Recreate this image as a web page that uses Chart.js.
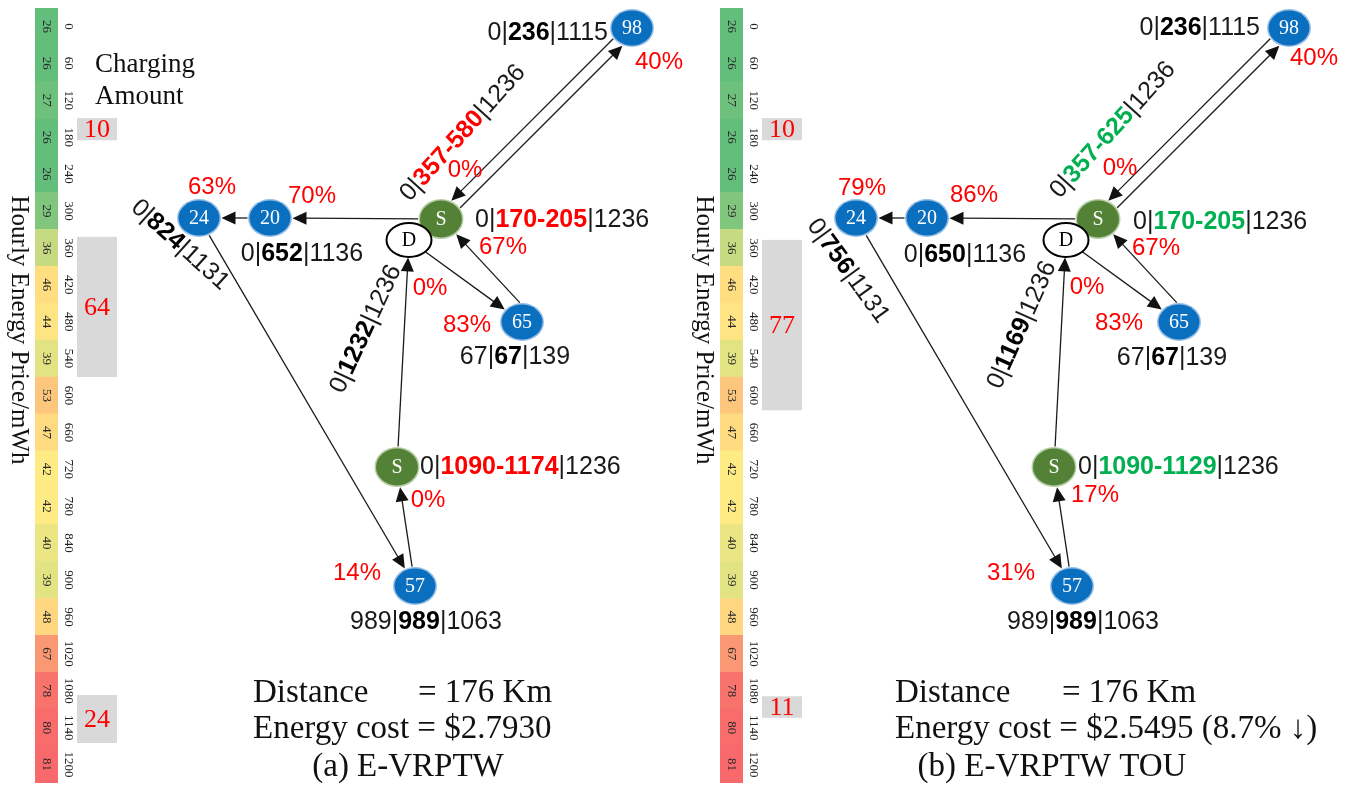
<!DOCTYPE html>
<html>
<head>
<meta charset="utf-8">
<script src="https://cdn.jsdelivr.net/npm/chart.js@4.4.1/dist/chart.umd.min.js"></script>
<style>
body { margin: 0; background: #fff; }
#wrap { position: relative; width: 1352px; height: 789px; overflow: hidden; }
canvas { position: absolute; top: 0; }
</style>
</head>
<body>
<div id="wrap">
  <canvas id="stripA" width="200" height="789" style="left:0px"></canvas>
  <canvas id="stripB" width="200" height="789" style="left:685px"></canvas>
  <canvas id="netA" width="595" height="789" style="left:100px"></canvas>
  <canvas id="netB" width="595" height="789" style="left:757px"></canvas>
</div>
<script>
// hourly price strip
const times = [0, 60, 120, 180, 240, 300, 360, 420, 480, 540, 600, 660, 720, 780, 840, 900, 960, 1020, 1080, 1140, 1200];
const prices = [26, 26, 27, 26, 26, 29, 36, 46, 44, 39, 53, 47, 42, 42, 40, 39, 48, 67, 78, 80, 81];

// charging amount boxes (minutes of day)
const chargeAmountA = [10, 64, 24];
const chargeFromA = [179, 372, 1117];
const chargeToA = [215, 600, 1195];
const chargeAmountB = [10, 77, 11];
const chargeFromB = [179, 377, 1119];
const chargeToB = [215, 654, 1154];

// network nodes (layout units)
const nodeIds = ['98', 'S1', 'D', '20', '24', '65', 'S2', '57'];
const nodeText = ['98', 'S', 'D', '20', '24', '65', 'S', '57'];
const nodeType = ['c', 's', 'd', 'c', 'c', 'c', 's', 'c'];
const nodeX = [53.2, 34.1, 30.9, 17.0, 9.9, 42.2, 29.7, 31.5];
const nodeY = [2.8, 21.9, 24.0, 21.8, 21.8, 32.2, 46.7, 58.6];

// route
const routeFrom = ['D', '65', 'S1', '98', 'S1', '20', '24', '57', 'S2'];
const routeTo = ['65', 'S1', '98', 'S1', '20', '24', '57', 'S2', 'D'];
// line end offsets in px: [fromDx, fromDy, toDx, toDy]
const routePorts = [null, [0, -17, 14, 14], [4, 4, 4, 4], [-4, -4, -4, -4], null, null, null, null, null];

const labelsA = [
  { x: 50.8, y: 3.3, align: 'right', parts: [['0|', 'n'], ['236', 'b'], ['|1115', 'n']] },
  { x: 55.9, y: 6.2, parts: [['40%', 'p']] },
  { x: 36.3, y: 13.3, rot: -48, parts: [['0|', 'n'], ['357-580', 'r'], ['|1236', 'n']] },
  { x: 36.5, y: 17.0, parts: [['0%', 'p']] },
  { x: 37.5, y: 22.0, align: 'left', parts: [['0|', 'n'], ['170-205', 'r'], ['|1236', 'n']] },
  { x: 40.3, y: 24.7, parts: [['67%', 'p']] },
  { x: 11.2, y: 18.7, parts: [['63%', 'p']] },
  { x: 21.2, y: 19.6, parts: [['70%', 'p']] },
  { x: 20.2, y: 25.4, parts: [['0|', 'n'], ['652', 'b'], ['|1136', 'n']] },
  { x: 8.0, y: 24.5, rot: 42, parts: [['0|', 'n'], ['824', 'b'], ['|1131', 'n']] },
  { x: 26.6, y: 32.9, rot: -65, parts: [['0|', 'n'], ['1232', 'b'], ['|1236', 'n']] },
  { x: 33.0, y: 28.8, parts: [['0%', 'p']] },
  { x: 36.7, y: 32.5, parts: [['83%', 'p']] },
  { x: 41.5, y: 35.7, parts: [['67|', 'n'], ['67', 'b'], ['|139', 'n']] },
  { x: 32.0, y: 46.7, align: 'left', parts: [['0|', 'n'], ['1090-1174', 'r'], ['|1236', 'n']] },
  { x: 32.8, y: 50.0, parts: [['0%', 'p']] },
  { x: 25.7, y: 57.3, parts: [['14%', 'p']] },
  { x: 32.6, y: 62.2, parts: [['989|', 'n'], ['989', 'b'], ['|1063', 'n']] }
];

const labelsB = [
  { x: 50.3, y: 2.8, align: 'right', parts: [['0|', 'n'], ['236', 'b'], ['|1115', 'n']] },
  { x: 55.7, y: 5.8, parts: [['40%', 'p']] },
  { x: 35.6, y: 13.0, rot: -48, parts: [['0|', 'n'], ['357-625', 'g'], ['|1236', 'n']] },
  { x: 36.3, y: 16.8, parts: [['0%', 'p']] },
  { x: 37.6, y: 22.2, align: 'left', parts: [['0|', 'n'], ['170-205', 'g'], ['|1236', 'n']] },
  { x: 39.9, y: 24.8, parts: [['67%', 'p']] },
  { x: 10.5, y: 18.8, parts: [['79%', 'p']] },
  { x: 21.7, y: 19.5, parts: [['86%', 'p']] },
  { x: 20.8, y: 25.5, parts: [['0|', 'n'], ['650', 'b'], ['|1136', 'n']] },
  { x: 9.1, y: 27.1, rot: 54, parts: [['0|', 'n'], ['756', 'b'], ['|1131', 'n']] },
  { x: 26.5, y: 32.5, rot: -66, parts: [['0|', 'n'], ['1169', 'b'], ['|1236', 'n']] },
  { x: 33.0, y: 28.7, parts: [['0%', 'p']] },
  { x: 36.2, y: 32.3, parts: [['83%', 'p']] },
  { x: 41.5, y: 35.8, parts: [['67|', 'n'], ['67', 'b'], ['|139', 'n']] },
  { x: 32.1, y: 46.7, align: 'left', parts: [['0|', 'n'], ['1090-1129', 'g'], ['|1236', 'n']] },
  { x: 33.8, y: 49.5, parts: [['17%', 'p']] },
  { x: 25.4, y: 57.3, parts: [['31%', 'p']] },
  { x: 32.6, y: 62.2, parts: [['989|', 'n'], ['989', 'b'], ['|1063', 'n']] }
];

const summaryA = { x: 15.3, eqX: 31.8, capX: 30.8, dist: '= 176 Km', cost: 'Energy cost = $2.7930', caption: '(a) E-VRPTW' };
const summaryB = { x: 13.8, eqX: 30.5, capX: 29.5, dist: '= 176 Km', cost: 'Energy cost = $2.5495 (8.7% \u2193)', caption: '(b) E-VRPTW TOU' };

const SANS = '"Liberation Sans", Arial, sans-serif';
const SERIF = '"Liberation Serif", "Times New Roman", serif';

const styles = {
  n: { font: '25px ' + SANS, color: '#1a1a1a' },
  b: { font: 'bold 25px ' + SANS, color: '#000' },
  r: { font: 'bold 25px ' + SANS, color: '#ff0000' },
  g: { font: 'bold 25px ' + SANS, color: '#00b050' },
  p: { font: '24px ' + SANS, color: '#ff0000' }
};

// excel style 3 colour scale
const lo = [99, 190, 123], mid = [255, 235, 132], hi = [248, 105, 107];
const sorted = prices.slice().sort((a, b) => a - b);
const pMin = sorted[0], pMax = sorted[sorted.length - 1], pMid = sorted[Math.floor(sorted.length / 2)];
function mix(c1, c2, t) {
  return 'rgb(' + c1.map((v, k) => Math.round(v + (c2[k] - v) * t)).join(',') + ')';
}
function priceColor(p) {
  if (p <= pMid) return mix(lo, mid, (p - pMin) / (pMid - pMin));
  return mix(mid, hi, (p - pMid) / (pMax - pMid));
}

function stripPlugin(amount, from, to, showTitle) {
  return {
    id: 'strip',
    afterDatasetsDraw(chart) {
      const { ctx, chartArea } = chart;
      const yS = chart.scales.y, yt = chart.scales.yt;
      const cx = (chartArea.left + chartArea.right) / 2;
      ctx.save();
      ctx.textAlign = 'center';
      ctx.textBaseline = 'middle';
      times.forEach((t, i) => {
        const py = yS.getPixelForValue(i);
        ctx.font = '13px ' + SERIF;
        ctx.fillStyle = '#2a2a2a';
        ctx.save(); ctx.translate(cx, py); ctx.rotate(Math.PI / 2);
        ctx.fillText(String(prices[i]), 0, 0); ctx.restore();
        ctx.fillStyle = '#222';
        ctx.save(); ctx.translate(chartArea.right + 10, py); ctx.rotate(Math.PI / 2);
        ctx.fillText(String(t), 0, 0); ctx.restore();
      });
      // charging boxes
      amount.forEach((a, k) => {
        const y0 = yt.getPixelForValue(from[k]), y1 = yt.getPixelForValue(to[k]);
        const bx = chartArea.right + 19;
        ctx.fillStyle = '#d9d9d9';
        ctx.fillRect(bx, y0, 40, y1 - y0);
        ctx.fillStyle = '#ff0000';
        ctx.font = '26px ' + SERIF;
        ctx.fillText(String(a), bx + 20, (y0 + y1) / 2 + 1);
      });
      // axis title
      ctx.fillStyle = '#111';
      ctx.font = '25px ' + SERIF;
      ctx.save(); ctx.translate(19, 330); ctx.rotate(Math.PI / 2);
      ctx.fillText('Hourly Energy Price/mWh', 0, 0); ctx.restore();
      if (showTitle) {
        ctx.textAlign = 'left';
        ctx.font = '27px ' + SERIF;
        ctx.fillText('Charging', 95, 65);
        ctx.fillText('Amount', 95, 97);
      }
      ctx.restore();
    }
  };
}

function makeStrip(id, amount, from, to, showTitle) {
  return new Chart(document.getElementById(id), {
    type: 'bar',
    data: {
      labels: times,
      datasets: [{
        data: prices,
        backgroundColor: prices.map(priceColor),
        borderWidth: 0,
        barPercentage: 1,
        categoryPercentage: 1,
        clip: 0
      }]
    },
    options: {
      indexAxis: 'y',
      responsive: false,
      animation: false,
      events: [],
      layout: { autoPadding: false, padding: { left: 35, right: 142, top: 8, bottom: 6 } },
      plugins: { legend: { display: false }, tooltip: { enabled: false } },
      scales: {
        x: { min: 0, max: 20, display: false },
        y: { display: false },
        yt: { type: 'linear', axis: 'y', min: 0, max: 1260, reverse: true, offset: false, display: false }
      }
    },
    plugins: [stripPlugin(amount, from, to, showTitle)]
  });
}

// node look
const nodeR = { c: [22, 19], s: [22.5, 20], d: [22.5, 17] };
function makeNode(type, text) {
  const cv = document.createElement('canvas');
  cv.width = 50; cv.height = 44;
  const c = cv.getContext('2d');
  const [rx, ry] = nodeR[type];
  c.beginPath();
  c.ellipse(25, 22, rx, ry, 0, 0, Math.PI * 2);
  if (type === 'd') {
    c.fillStyle = '#fff'; c.fill();
    c.lineWidth = 2; c.strokeStyle = '#000'; c.stroke();
  } else {
    c.fillStyle = type === 'c' ? 'rgba(70,140,210,0.55)' : 'rgba(110,160,80,0.5)';
    c.fill();
    c.beginPath();
    c.ellipse(25, 22, rx - 1.5, ry - 1.5, 0, 0, Math.PI * 2);
    c.fillStyle = type === 'c' ? '#0b6fc0' : '#538135';
    c.fill();
  }
  c.fillStyle = type === 'd' ? '#000' : '#fff';
  c.font = '20px ' + SERIF;
  c.textAlign = 'center';
  c.textBaseline = 'middle';
  c.fillText(text, 25, 23);
  return cv;
}
const nodeImages = nodeIds.map((id, i) => makeNode(nodeType[i], nodeText[i]));

function ellipseRoot(p0, d, cx, cy, rx, ry, larger) {
  const ux = (p0.x - cx) / rx, uy = (p0.y - cy) / ry, vx = d.x / rx, vy = d.y / ry;
  const a = vx * vx + vy * vy, b = 2 * (ux * vx + uy * vy), c = ux * ux + uy * uy - 1;
  const disc = b * b - 4 * a * c;
  if (disc < 0) return larger ? 0 : 1;
  const s = Math.sqrt(disc);
  return larger ? (-b + s) / (2 * a) : (-b - s) / (2 * a);
}

function drawParts(ctx, x, y, parts, align, rot) {
  ctx.save();
  ctx.translate(x, y);
  if (rot) ctx.rotate(rot * Math.PI / 180);
  ctx.textBaseline = 'middle';
  ctx.textAlign = 'left';
  let total = 0;
  const widths = parts.map(([t, s]) => { ctx.font = styles[s].font; const w = ctx.measureText(t).width; total += w; return w; });
  let px = align === 'left' ? 0 : align === 'right' ? -total : -total / 2;
  parts.forEach(([t, s], k) => {
    ctx.font = styles[s].font;
    ctx.fillStyle = styles[s].color;
    ctx.fillText(t, px, 0);
    px += widths[k];
  });
  ctx.restore();
}

function netPlugin(labels, summary) {
  return {
    id: 'net',
    beforeDatasetsDraw(chart) {
      const { ctx } = chart;
      const xs = chart.scales.x, ys = chart.scales.y;
      ctx.save();
      ctx.strokeStyle = '#1a1a1a';
      ctx.fillStyle = '#111';
      ctx.lineWidth = 1.3;
      routeFrom.forEach((fid, k) => {
        const a = nodeIds.indexOf(fid), b = nodeIds.indexOf(routeTo[k]);
        const ca = { x: xs.getPixelForValue(nodeX[a]), y: ys.getPixelForValue(nodeY[a]) };
        const cb = { x: xs.getPixelForValue(nodeX[b]), y: ys.getPixelForValue(nodeY[b]) };
        const pt = routePorts[k] || [0, 0, 0, 0];
        const p0 = { x: ca.x + pt[0], y: ca.y + pt[1] };
        const p1 = { x: cb.x + pt[2], y: cb.y + pt[3] };
        const d = { x: p1.x - p0.x, y: p1.y - p0.y };
        const ra = nodeR[nodeType[a]], rb = nodeR[nodeType[b]];
        const s0 = ellipseRoot(p0, d, ca.x, ca.y, ra[0] + 0.5, ra[1] + 0.5, true);
        const s1 = ellipseRoot(p0, d, cb.x, cb.y, rb[0] + 0.5, rb[1] + 0.5, false);
        const st = { x: p0.x + d.x * s0, y: p0.y + d.y * s0 };
        const en = { x: p0.x + d.x * s1, y: p0.y + d.y * s1 };
        const len = Math.hypot(en.x - st.x, en.y - st.y);
        const ux = (en.x - st.x) / len, uy = (en.y - st.y) / len;
        ctx.beginPath();
        ctx.moveTo(st.x, st.y);
        ctx.lineTo(en.x - ux * 10, en.y - uy * 10);
        ctx.stroke();
        const hl = 14, hw = 6.5;
        ctx.beginPath();
        ctx.moveTo(en.x, en.y);
        ctx.lineTo(en.x - ux * hl - uy * hw, en.y - uy * hl + ux * hw);
        ctx.lineTo(en.x - ux * hl + uy * hw, en.y - uy * hl - ux * hw);
        ctx.closePath();
        ctx.fill();
      });
      ctx.restore();
    },
    afterDatasetsDraw(chart) {
      const { ctx } = chart;
      const xs = chart.scales.x, ys = chart.scales.y;
      labels.forEach(l => {
        drawParts(ctx, xs.getPixelForValue(l.x), ys.getPixelForValue(l.y), l.parts, l.align, l.rot);
      });
      ctx.save();
      ctx.fillStyle = '#111';
      ctx.font = '33px ' + SERIF;
      ctx.textBaseline = 'middle';
      ctx.textAlign = 'left';
      ctx.fillText('Distance', xs.getPixelForValue(summary.x), ys.getPixelForValue(69.3));
      ctx.fillText(summary.dist, xs.getPixelForValue(summary.eqX), ys.getPixelForValue(69.3));
      ctx.fillText(summary.cost, xs.getPixelForValue(summary.x), ys.getPixelForValue(72.9));
      ctx.textAlign = 'center';
      ctx.fillText(summary.caption, xs.getPixelForValue(summary.capX), ys.getPixelForValue(76.7));
      ctx.restore();
    }
  };
}

function makeNet(id, labels, summary) {
  return new Chart(document.getElementById(id), {
    type: 'scatter',
    data: {
      datasets: [{
        data: nodeX.map((x, i) => ({ x: x, y: nodeY[i] })),
        pointStyle: c => nodeImages[c.dataIndex],
        pointRadius: 20,
        clip: false
      }]
    },
    options: {
      responsive: false,
      animation: false,
      events: [],
      layout: { autoPadding: false, padding: 0 },
      plugins: { legend: { display: false }, tooltip: { enabled: false } },
      scales: {
        x: { type: 'linear', min: 0, max: 59.5, display: false },
        y: { type: 'linear', min: 0, max: 78.9, reverse: true, display: false }
      }
    },
    plugins: [netPlugin(labels, summary)]
  });
}

makeStrip('stripA', chargeAmountA, chargeFromA, chargeToA, true);
makeStrip('stripB', chargeAmountB, chargeFromB, chargeToB, false);
makeNet('netA', labelsA, summaryA);
makeNet('netB', labelsB, summaryB);
</script>
</body>
</html>
